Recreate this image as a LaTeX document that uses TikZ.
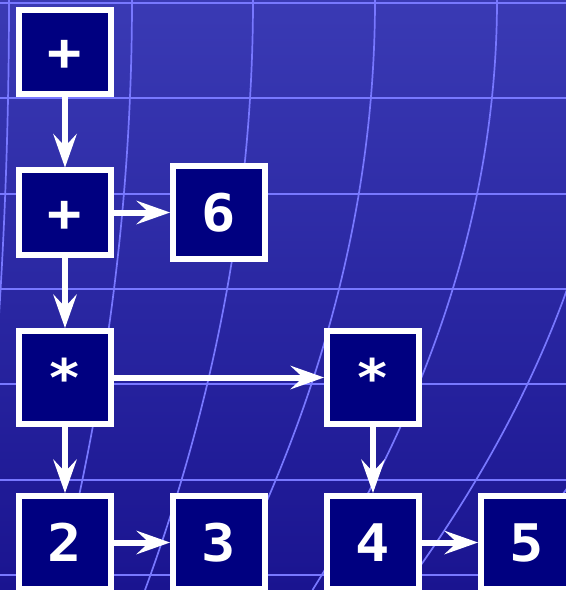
\documentclass[tikz,border=0pt]{standalone}
\usepackage{fontspec}
\newfontfamily\dvm{DejaVu Sans Mono}[FakeStretch=1.1]
\usetikzlibrary{arrows.meta}
\definecolor{bgtop}{RGB}{58,58,180}
\definecolor{bgbot}{RGB}{26,20,144}
\definecolor{gridc}{RGB}{120,120,255}
\definecolor{boxc}{RGB}{0,0,128}
\tikzset{
  box/.style={draw=white, line width=6bp, fill=boxc, text=white,
    minimum width=92bp, minimum height=93bp, inner sep=0pt,
    text height=38bp, text depth=0pt,
    font=\dvm\bfseries\fontsize{52}{52}\selectfont},
  opbox/.style={box, minimum height=84bp},
  arr/.style={draw=white, line width=6bp,
    -{Stealth[length=34bp, width=24bp, inset=13bp, line width=0pt]}},
  hgrid/.style={draw=gridc, line width=2.2bp},
  vgrid/.style={draw=gridc, line width=1.7bp},
}
\begin{document}
\begin{tikzpicture}[x=1bp, y=-1bp]
\useasboundingbox (0,0) rectangle (566,590);
\fill[top color=bgtop, bottom color=bgbot] (0,0) rectangle (566,590);
% horizontal grid lines
\foreach \yy in {3,98.3,193.7,289,384.3,479.7,575}
  \draw[hgrid] (0,\yy) -- (566,\yy);
% curved grid lines: x = x0 - D (y/590)^2
\foreach \xo/\dd in {9/35, 132/75, 253/108, 375/150, 497/184.5, 619/216, 741/254}
  \draw[vgrid] (\xo,0) .. controls (\xo,196.67) and ({\xo-\dd/3},393.33) .. ({\xo-\dd},590);
% nodes
\node[opbox] (p1) at (65,52) {+};
\node[opbox] (p2) at (65,212.5) {+};
\node[box] (n6) at (219,212.5) {6};
\node[box] (m1) at (65,377.5) {*};
\node[box] (m2) at (373,377.5) {*};
\node[box] (d2) at (65,542.5) {2};
\node[box] (d3) at (219,542.5) {3};
\node[box] (d4) at (373,542.5) {4};
\node[box] (d5) at (527,542.5) {5};
% connectors
\draw[arr] (p1.south) -- (p2.north);
\draw[arr] (p2.east) -- (n6.west);
\draw[arr] (p2.south) -- (m1.north);
\draw[arr] (m1.east) -- (m2.west);
\draw[arr] (m1.south) -- (d2.north);
\draw[arr] (m2.south) -- (d4.north);
\draw[arr] (d2.east) -- (d3.west);
\draw[arr] (d4.east) -- (d5.west);
\end{tikzpicture}
\end{document}
